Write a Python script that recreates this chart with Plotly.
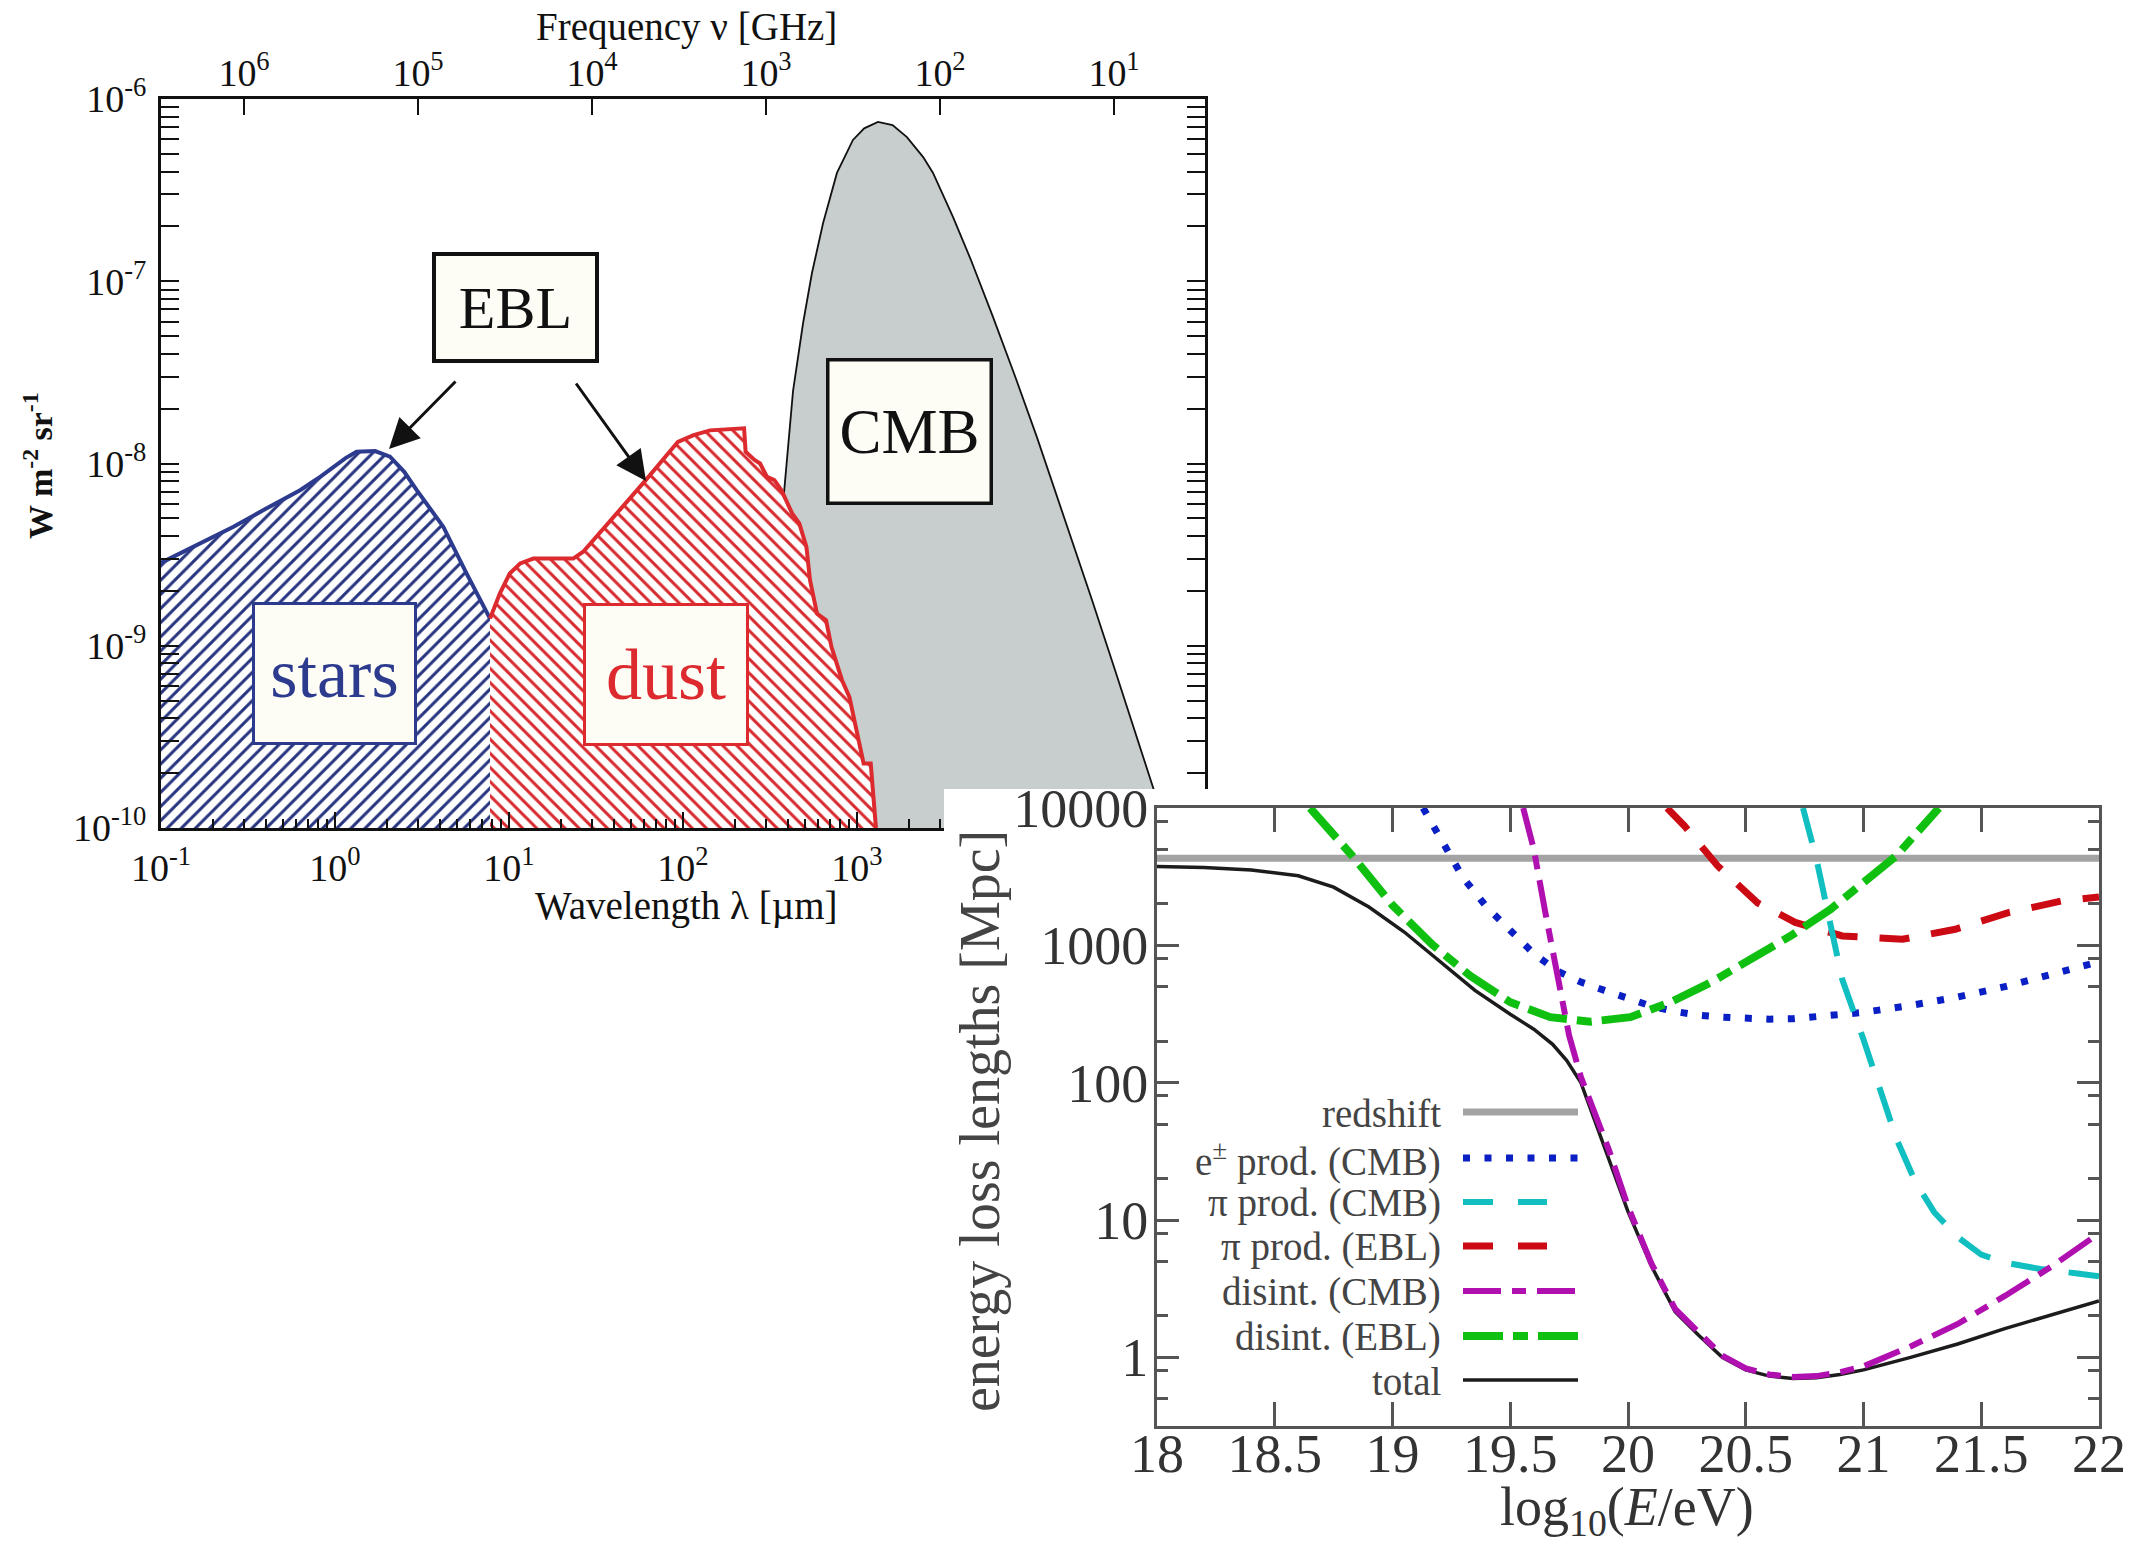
import plotly.graph_objects as go

FIG_W, FIG_H = 2140, 1541
SERIF = "Liberation Serif"


def fx(px):
    """Horizontal pixel position -> paper fraction."""
    return px / FIG_W


def fy(py):
    """Vertical pixel position (from top) -> paper fraction."""
    return 1 - py / FIG_H


# ---------------------------------------------------------------
# Left panel: background radiation spectra, nu*I_nu [W m^-2 sr^-1]
# ---------------------------------------------------------------
FLUX_FLOOR = 1e-10

stars_lam = [0.1, 0.15, 0.261, 0.4, 0.63, 0.8, 0.977, 1.15, 1.33, 1.7, 2.07, 2.5, 2.95, 4.19, 5.71, 7.78]
stars_flux = [2.85e-9, 3.45e-9, 4.50e-9, 5.64e-9, 7.14e-9, 8.3e-9, 9.6e-9, 1.07e-8, 1.16e-8, 1.17e-8,
              1.09e-8, 9.0e-9, 7.14e-9, 4.50e-9, 2.49e-9, 1.41e-9]

dust_lam = [7.78, 8.87, 10.1, 11.6, 13.8, 23.4, 26.7, 61.1, 93.5, 115, 142.9, 224.4, 229, 257.6, 277.3,
            304, 335, 368, 424, 466, 512, 537, 589, 664, 713, 820, 904, 993, 1091, 1199, 1256, 1285]
dust_flux = [1.41e-9, 1.94e-9, 2.49e-9, 2.83e-9, 3.01e-9, 3.01e-9, 3.28e-9, 8.1e-9, 1.315e-8, 1.43e-8,
             1.52e-8, 1.56e-8, 1.16e-8, 1.045e-8, 1.0e-8, 8.45e-9, 8.1e-9, 7.14e-9, 5.32e-9, 4.69e-9,
             3.49e-9, 2.29e-9, 1.50e-9, 1.38e-9, 9.86e-10, 6.47e-10, 5.24e-10, 3.44e-10, 2.26e-10,
             2.26e-10, 1.2e-10, 1.0e-10]

cmb_lam = [270, 300, 330, 360, 385, 429, 490, 551, 638, 767, 948, 1100, 1320, 1600, 1936, 2400, 2735,
           3565, 4500, 6000, 8000, 10800, 14000, 18000, 22400, 30000, 40000, 50000, 60000, 70000]
cmb_flux = [1.0e-10, 4.5e-10, 1.5e-9, 4.0e-9, 7.8e-9, 2.5e-8, 5.9e-8, 1.11e-7, 2.08e-7, 3.93e-7,
            5.96e-7, 6.9e-7, 7.48e-7, 7.2e-7, 6.18e-7, 4.8e-7, 3.93e-7, 2.25e-7, 1.32e-7, 6.5e-8,
            3.11e-8, 1.4e-8, 6.8e-9, 3.33e-9, 1.79e-9, 7.65e-10, 3.3e-10, 1.71e-10, 1.0e-10, 6.3e-11]

lam_ticks = [0.1, 1, 10, 100, 1000, 1e4, 1e5]
lam_ticktext = ["10<sup>-1</sup>", "10<sup>0</sup>", "10<sup>1</sup>", "10<sup>2</sup>",
                "10<sup>3</sup>", "10<sup>4</sup>", "10<sup>5</sup>"]
freq_ticks = [1e6, 1e5, 1e4, 1e3, 1e2, 1e1]
freq_ticktext = ["10<sup>6</sup>", "10<sup>5</sup>", "10<sup>4</sup>", "10<sup>3</sup>",
                 "10<sup>2</sup>", "10<sup>1</sup>"]
flux_ticks = [1e-10, 1e-9, 1e-8, 1e-7, 1e-6]
flux_ticktext = ["10<sup>-10</sup>", "10<sup>-9</sup>", "10<sup>-8</sup>", "10<sup>-7</sup>",
                 "10<sup>-6</sup>"]

# ---------------------------------------------------------------
# Right panel: energy loss lengths [Mpc] vs log10(E/eV)
# ---------------------------------------------------------------
redshift_E = [18.0, 22.0]
redshift_L = [4300, 4300]

epair_E = [19.13, 19.22, 19.3, 19.4, 19.5, 19.6, 19.7, 19.8, 19.9, 20.0, 20.1, 20.2, 20.3, 20.4, 20.5,
           20.6, 20.7, 20.8, 20.9, 21.0, 21.2, 21.4, 21.6, 21.8, 22.0]
epair_L = [10000, 5300, 3100, 1900, 1280, 870, 650, 540, 470, 410, 360, 330, 310, 300, 292, 290, 292,
           300, 310, 325, 365, 420, 500, 610, 760]

pion_cmb_E = [20.743, 20.80, 20.855, 20.91, 21.0, 21.07, 21.14, 21.22, 21.3, 21.4, 21.5, 21.6, 21.75,
              21.9, 22.0]
pion_cmb_L = [10000, 4250, 1550, 563, 206, 88, 39, 19, 11.4, 7.5, 5.6, 4.9, 4.4, 4.1, 3.9]

pion_ebl_E = [20.166, 20.24, 20.38, 20.55, 20.71, 20.91, 21.165, 21.39, 21.615, 21.84, 22.0]
pion_ebl_L = [10000, 7400, 3800, 2040, 1470, 1170, 1107, 1310, 1730, 2100, 2250]

dis_cmb_E = [19.555, 19.6, 19.65, 19.7, 19.75, 19.8, 19.86, 19.92, 20.0, 20.1, 20.2, 20.3, 20.4, 20.5,
             20.6, 20.7, 20.8, 20.9, 21.0, 21.2, 21.4, 21.6, 21.8, 22.0]
dis_cmb_L = [10000, 5000, 1700, 600, 220, 110, 58, 32, 12.5, 4.8, 2.25, 1.5, 1.03, 0.83, 0.75, 0.72,
             0.73, 0.78, 0.86, 1.2, 1.75, 2.8, 4.6, 8.0]

dis_ebl_E = [18.65, 18.83, 19.0, 19.17, 19.33, 19.5, 19.67, 19.84, 20.01, 20.18, 20.35, 20.52, 20.69,
             20.86, 21.02, 21.14, 21.32]
dis_ebl_L = [10000, 4470, 1960, 1010, 600, 385, 300, 278, 300, 385, 535, 790, 1170, 1830, 3030, 4490,
             10000]

total_E = [18.0, 18.2, 18.4, 18.6, 18.75, 18.9, 19.05, 19.2, 19.35, 19.5, 19.6, 19.68, 19.74, 19.8,
           19.86, 19.92, 20.0, 20.1, 20.2, 20.3, 20.4, 20.5, 20.6, 20.7, 20.8, 20.9, 21.0, 21.2, 21.4,
           21.6, 21.8, 22.0]
total_L = [3750, 3680, 3540, 3210, 2650, 1900, 1250, 770, 470, 315, 245, 190, 145, 100, 52, 28, 11.5,
           4.6, 2.15, 1.45, 1.0, 0.81, 0.73, 0.70, 0.71, 0.75, 0.81, 1.0, 1.25, 1.62, 2.05, 2.57]

energy_ticks = [18, 18.5, 19, 19.5, 20, 20.5, 21, 21.5, 22]
length_ticks = [1, 10, 100, 1000, 10000]

BLUE = "#2d3b8e"
HATCH_BLUE = "#27347f"
RED = "#dc2a2e"
HATCH_RED = "#d82a2e"
GRAY_FILL = "#c7cecd"
IVORY = "#fdfdf6"

fig = go.Figure()

# ---- left panel traces ----
fig.add_trace(go.Scatter(x=cmb_lam, y=cmb_flux, mode="lines", fill="toself", fillcolor=GRAY_FILL,
                         line=dict(width=0), hoverinfo="skip", showlegend=False))
fig.add_trace(go.Scatter(x=cmb_lam, y=cmb_flux, mode="lines", line=dict(color="#111111", width=1.8),
                         hoverinfo="skip", showlegend=False))

fig.add_trace(go.Scatter(
    x=stars_lam + [stars_lam[-1], stars_lam[0]],
    y=stars_flux + [FLUX_FLOOR, FLUX_FLOOR],
    mode="lines", fill="toself", fillcolor="white",
    fillpattern=dict(shape="/", fgcolor=HATCH_BLUE, fgopacity=1, bgcolor="white", size=10,
                     solidity=0.3),
    line=dict(width=0), hoverinfo="skip", showlegend=False))
fig.add_trace(go.Scatter(
    x=dust_lam + [dust_lam[0]],
    y=dust_flux + [FLUX_FLOOR],
    mode="lines", fill="toself", fillcolor="white",
    fillpattern=dict(shape="\\", fgcolor=HATCH_RED, fgopacity=1, bgcolor="white", size=10,
                     solidity=0.3),
    line=dict(width=0), hoverinfo="skip", showlegend=False))
fig.add_trace(go.Scatter(x=stars_lam, y=stars_flux, mode="lines", line=dict(color=BLUE, width=4),
                         hoverinfo="skip", showlegend=False))
fig.add_trace(go.Scatter(x=dust_lam, y=dust_flux, mode="lines", line=dict(color=RED, width=4),
                         hoverinfo="skip", showlegend=False))

# frequency axis carrier (top axis of the left panel)
fig.add_trace(go.Scatter(x=[None], y=[None], xaxis="x2", yaxis="y", showlegend=False,
                         hoverinfo="skip"))

# blank panel that the inset sits on
fig.add_trace(go.Scatter(x=[None], y=[None], xaxis="x3", yaxis="y3", showlegend=False,
                         hoverinfo="skip"))

# ---- right panel traces ----
series = [
    (redshift_E, redshift_L, dict(color="#a3a3a3", width=7)),
    (epair_E, epair_L, dict(color="#0a1fc4", width=7, dash="7px,14.5px")),
    (pion_ebl_E, pion_ebl_L, dict(color="#cc0a14", width=7, dash="30px,22px")),
    (pion_cmb_E, pion_cmb_L, dict(color="#12bfc0", width=6, dash="36px,22px")),
    (dis_ebl_E, dis_ebl_L, dict(color="#10c010", width=8, dash="40px,10px,15px,10px")),
    (total_E, total_L, dict(color="#1c1c1c", width=3.5)),
    (dis_cmb_E, dis_cmb_L, dict(color="#b010b0", width=6, dash="38px,11px,14px,11px")),
]
for xs, ys, ln in series:
    fig.add_trace(go.Scatter(x=xs, y=ys, mode="lines", line=ln, xaxis="x4", yaxis="y4",
                             showlegend=False, hoverinfo="skip"))

# ---- axes ----
tick_font_left = dict(family=SERIF, size=38, color="#111111")
minor_flux = [m * 10 ** e for e in range(-10, -6) for m in range(2, 10)]
minor_lam = [m * 10 ** e for e in range(-1, 5) for m in range(2, 10)]

fig.update_layout(
    xaxis=dict(domain=[fx(161), fx(1205)], anchor="y", type="log", range=[-1, 5],
               tickvals=lam_ticks, ticktext=lam_ticktext, ticks="inside", ticklen=16, tickwidth=2,
               tickcolor="#111", showline=True, linewidth=3, linecolor="#111", mirror=True,
               showgrid=False, zeroline=False, tickfont=tick_font_left, ticklabelstandoff=4,
               automargin=False,
               minor=dict(tickvals=minor_lam, ticks="inside", ticklen=9, tickwidth=1.5,
                          tickcolor="#111", showgrid=False)),
    xaxis2=dict(overlaying="x", anchor="y", side="top", type="log", range=[6.4771, 0.4771],
                tickvals=freq_ticks, ticktext=freq_ticktext, ticks="inside", ticklen=16,
                tickwidth=2, tickcolor="#111", showline=False, showgrid=False, zeroline=False,
                tickfont=tick_font_left, ticklabelstandoff=4, automargin=False),
    yaxis=dict(domain=[fy(828), fy(99)], anchor="x", type="log", range=[-10, -6],
               tickvals=flux_ticks, ticktext=flux_ticktext, ticks="inside", ticklen=18,
               tickwidth=2, tickcolor="#111", showline=True, linewidth=3, linecolor="#111",
               mirror="allticks", showgrid=False, zeroline=False, tickfont=tick_font_left,
               ticklabelstandoff=4, automargin=False,
               minor=dict(tickvals=minor_flux, ticks="inside", ticklen=10, tickwidth=1.5,
                          tickcolor="#111", showgrid=False)),
    xaxis3=dict(domain=[fx(944), 1.0], anchor="y3", range=[0, 1], showline=False,
                showgrid=False, zeroline=False, showticklabels=False, ticks="", automargin=False),
    yaxis3=dict(domain=[0.0, fy(789)], anchor="x3", range=[0, 1], showline=False,
                showgrid=False, zeroline=False, showticklabels=False, ticks="", automargin=False),
    xaxis4=dict(domain=[fx(1157), fx(2099)], anchor="y4", range=[18, 22],
                tickvals=energy_ticks, ticktext=[f"{v:g}" for v in energy_ticks],
                ticks="inside", ticklen=24, tickwidth=2.5, tickcolor="#555", showline=True,
                linewidth=3, linecolor="#555", mirror="allticks", showgrid=False,
                zeroline=False, tickfont=dict(family=SERIF, size=54, color="#333"),
                ticklabelstandoff=-22, automargin=False),
    yaxis4=dict(domain=[fy(1426), fy(808)], anchor="x4", type="log", range=[-0.5, 4],
                tickvals=length_ticks, ticktext=[str(v) for v in length_ticks],
                ticks="inside", ticklen=22, tickwidth=2.5, tickcolor="#555", showline=True,
                linewidth=3, linecolor="#555", mirror="allticks", showgrid=False,
                zeroline=False, tickfont=dict(family=SERIF, size=54, color="#333"),
                ticklabelstandoff=-5, automargin=False,
                minor=dict(tickvals=[m * 10 ** e for e in range(-1, 4) for m in (2, 5, 8)],
                           ticks="inside", ticklen=11, tickwidth=2.5, tickcolor="#555",
                           showgrid=False)),
)

# ---- text: axis titles, labelled boxes, arrows ----
ann = []


def label(text, px, py, size, color="#111", angle=0, xanchor="center", **kw):
    ann.append(dict(text=text, x=fx(px), y=fy(py), xref="paper", yref="paper", showarrow=False,
                    xanchor=xanchor, yanchor="middle", textangle=angle,
                    font=dict(family=SERIF, size=size, color=color), **kw))


label("Frequency ν [GHz]", 686, 27, 39)
label("Wavelength λ [µm]", 686, 906, 39)
label("<b>W m<sup>-2</sup> sr<sup>-1</sup></b>", 38, 466, 34, angle=-90)

label("EBL", 515.5, 307.5, 60, bgcolor=IVORY, bordercolor="#111", borderwidth=4, borderpad=0,
      width=159, height=103)
label("CMB", 909.5, 431.5, 63, bgcolor=IVORY, bordercolor="#111", borderwidth=3.5, borderpad=0,
      width=160, height=140)
label("stars", 334.5, 673.5, 70, color=BLUE, bgcolor=IVORY, bordercolor=BLUE, borderwidth=3,
      borderpad=0, width=159, height=137)
label("dust", 666, 674.5, 72, color=RED, bgcolor=IVORY, bordercolor=RED, borderwidth=3,
      borderpad=0, width=160, height=137)

for hx, hy, tx, ty in [(389, 449, 457, 380), (646, 481, 575, 382)]:
    ann.append(dict(text="", x=fx(hx), y=fy(hy), xref="paper", yref="paper", showarrow=True,
                    ax=tx - hx, ay=ty - hy, arrowhead=2, arrowsize=2, arrowwidth=3,
                    arrowcolor="#111", standoff=0))

label("log<sub>10</sub>(<i>E</i>/eV)", 1627, 1510, 54, color="#333")
label("energy loss lengths [Mpc]", 980, 1121, 56, color="#444", angle=-90)

# hand-placed key with samples to the right of right-aligned labels
key_rows = [
    ("redshift", 1112, 1578, dict(color="#a3a3a3", width=7)),
    ("e<sup>±</sup> prod. (CMB)", 1158, 1578, dict(color="#0a1fc4", width=7, dash="7px,14.5px")),
    ("π prod. (CMB)", 1202, 1547, dict(color="#12bfc0", width=6, dash="30px,25px")),
    ("π prod. (EBL)", 1246, 1547, dict(color="#cc0a14", width=7, dash="30px,25px")),
    ("disint. (CMB)", 1291, 1578, dict(color="#b010b0", width=6, dash="38px,11px,14px,11px")),
    ("disint. (EBL)", 1336, 1578, dict(color="#10c010", width=8, dash="40px,10px,15px,10px")),
    ("total", 1380, 1578, dict(color="#1c1c1c", width=3.5)),
]
shapes = []
for text, py, x_end, ln in key_rows:
    label(text, 1443, py + 1, 39, color="#444", xanchor="right")
    shapes.append(dict(type="line", xref="paper", yref="paper", x0=fx(1463), x1=fx(x_end),
                       y0=fy(py), y1=fy(py), line=ln, layer="above"))

fig.update_layout(
    width=FIG_W, height=FIG_H, autosize=False,
    margin=dict(l=0, r=0, t=0, b=0, pad=0, autoexpand=False),
    paper_bgcolor="white", plot_bgcolor="white",
    showlegend=False,
    annotations=ann, shapes=shapes,
    font=dict(family=SERIF, color="#111"),
)

fig.write_html("out.html")
